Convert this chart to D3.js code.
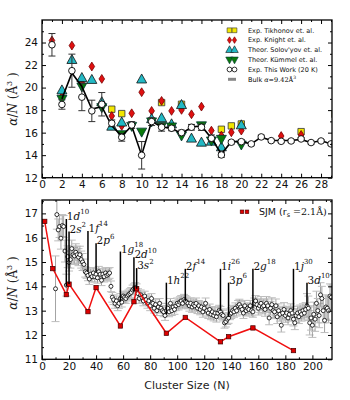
<!DOCTYPE html>
<html>
<head>
<meta charset="utf-8">
<script src="https://cdn.jsdelivr.net/npm/d3@7"></script>
<style>
  body { margin: 0; background: #fff; }
  text { font-family: "DejaVu Sans", sans-serif; }
  .math { font-family: "DejaVu Serif", serif; }
</style>
</head>
<body>
<div id="chart"></div>
<script>
// ---- top panel data (small clusters) ----
const tikhN = [7, 8, 12, 14, 18, 19, 20, 26, 29.4];
const tikhV = [18.08, 17.69, 18.67, 18.52, 16.3, 16.6, 16.77, 16.09, 17.63];

const knightN = [1, 2, 3, 4, 5, 6, 7, 8, 9, 10, 11, 12, 13, 14, 15, 16, 17, 18, 19, 20, 24, 26, 29.4];
const knightV = [24.18, 19.2, 23.73, 20.4, 21.87, 20.77, 17.48, 16.6, 17.72, 19.59, 17.93, 18.82, 17.93, 18.02, 17.63, 18.31, 16.18, 15.74, 16.03, 16.18, 15.7, 15.8, 14.75];

const solovN = [2, 3, 4, 5, 6, 7, 8, 10, 11, 12, 13, 14, 15, 16, 17, 18, 20];
const solovV = [19.75, 22.45, 20.85, 20.68, 18.7, 16.53, 16.9, 20.72, 17.2, 17.28, 16.74, 18.45, 15.47, 15.11, 15.2, 14.7, 16.65];

const kummelN = [2, 4, 6, 8, 9, 10, 11, 12, 13, 14, 16, 17, 18, 20, 29.4];
const kummelV = [19.0, 20.1, 18.26, 15.86, 16.6, 16.09, 17.0, 16.6, 16.55, 15.75, 16.65, 15.3, 15.45, 14.95, 14.8];

const workN = [1, 2, 3, 4, 5, 6, 7, 8, 9, 10, 11, 12, 13, 14, 15, 16, 17, 18, 19, 20, 21, 22, 23, 24, 25, 26, 27, 28, 29, 29.4];
const workV = [23.8, 18.5, 21.5, 19.15, 17.93, 18.52, 16.83, 15.59, 16.68, 13.99, 16.98, 16.48, 16.39, 16.0, 16.48, 16.48, 15.5, 14.02, 15.15, 15.2, 15.0, 15.62, 15.29, 15.23, 15.26, 15.44, 15.12, 15.26, 15.0, 14.95];
const workErr = [1.0, 0.42, 1.47, 1.2, 0.95, 1.04, 0.3, 0.35, 0.3, 1.22, 0.35, 0.35, 0.22, 0.22, 0.25, 0.28, 0.3, 0.2, 0.15, 0.18, 0.15, 0.15, 0.12, 0.12, 0.12, 0.12, 0.12, 0.12, 0.12, 0.12];

const lineN = [2, 3, 4, 5, 6, 7, 8, 9, 10, 11, 12, 13, 14, 15, 16, 17, 18, 19, 20, 21, 22, 23, 24, 25, 26, 27, 28, 29, 29.4];
const lineV = [19.0, 21.3, 20.1, 18.1, 18.3, 16.6, 15.7, 16.6, 14.0, 17.0, 16.5, 16.4, 15.9, 16.5, 16.6, 15.5, 14.1, 15.2, 15.2, 15.0, 15.6, 15.3, 15.3, 15.3, 15.4, 15.1, 15.3, 15.0, 14.9];

// ---- bottom panel data (large clusters) ----
const bigN = [];
for (let n = 10; n <= 214; n++) bigN.push(n);
const bigV = [
  13.9, 16.95, 16.32, 16.46, 15.98, 16.5, 16.46, 15.45, 14.05, 15.22,
  14.98, 15.1, 15.55, 15.3, 15.25, 15.4, 15.3, 15.2, 15.3, 15.1,
  15.0, 14.9, 14.6, 14.55, 14.45, 14.3, 14.5, 14.4, 14.55, 14.4,
  14.5, 14.35, 14.6, 14.5, 14.25, 14.5, 14.4, 14.55, 14.45, 14.5,
  14.55, 14.0, 13.55, 13.45, 13.3, 13.4, 13.2, 13.3, 13.5, 13.35,
  13.6, 13.55, 13.5, 13.6, 13.65, 13.7, 13.75, 13.85, 13.9, 13.95,
  13.9, 13.7, 13.5, 13.65, 13.55, 13.4, 13.6, 13.45, 13.3, 13.4,
  13.2, 13.5, 13.3, 13.1, 13.25, 13.0, 13.15, 13.3, 13.1, 13.0,
  12.95, 12.8, 13.0, 13.1, 12.95, 13.3, 13.0, 13.15, 13.05, 13.2,
  13.3, 13.25, 13.35, 13.4, 13.3, 13.45, 13.4, 13.35, 13.3, 13.2,
  13.3, 13.15, 13.25, 13.2, 13.3, 13.1, 13.2, 13.05, 13.15, 12.95,
  13.1, 13.3, 13.0, 12.9, 13.05, 12.85, 12.95, 12.8, 12.9, 12.75,
  12.9, 13.0, 12.95, 12.85, 12.8, 12.5, 12.55, 12.65, 12.7, 12.85,
  12.9, 13.0, 12.95, 13.1, 13.0, 13.2, 13.25, 13.15, 13.05, 12.9,
  13.2, 13.0, 13.1, 13.05, 13.2, 13.0, 12.95, 13.3, 13.4, 13.25,
  13.1, 13.2, 13.3, 13.15, 13.2, 13.05, 13.3, 13.2, 12.7, 13.1,
  13.25, 13.0, 12.95, 13.2, 12.75, 13.0, 12.85, 12.4, 12.9, 13.05,
  12.8, 12.9, 12.7, 12.85, 13.0, 12.9, 12.65, 12.5, 12.8, 12.9,
  12.75, 12.95, 12.85, 13.0, 12.9, 13.05, 13.2, 13.1, 12.5, 12.7,
  12.4, 12.85, 12.65, 13.3, 13.0, 12.8, 13.65, 13.5, 13.0, 12.6,
  13.15, 13.1, 13.0, 13.6, 13.55
];
// error size read per stretch of N (starts of stretches and their half-widths)
const bigErrFrom = [10, 11, 12, 20, 31, 52, 100, 160, 196];
const bigErrVal = [1.35, 0.6, 0.45, 0.35, 0.22, 0.2, 0.22, 0.28, 0.5];

const sjmN = [2, 8, 18, 20, 34, 40, 58, 68, 70, 92, 106, 132, 138, 156, 186];
const sjmV = [16.67, 14.73, 13.66, 14.09, 12.96, 13.95, 12.37, 13.37, 13.9, 12.07, 12.72, 11.72, 11.93, 12.29, 11.36];

const shellN = [18, 20, 34, 40, 58, 68, 70, 92, 106, 132, 138, 156, 186, 196];
const shellTop = [16.77, 16.25, 16.28, 15.77, 15.43, 15.2, 14.75, 14.15, 14.72, 14.72, 14.15, 14.72, 14.72, 14.15];
const shellBase = [14.0, 14.1, 14.6, 14.6, 13.37, 13.8, 13.9, 12.85, 13.4, 13.0, 12.75, 13.1, 13.0, 13.2];
const shellName = ["1d", "2s", "1f", "2p", "1g", "2d", "3s", "1h", "2f", "1i", "3p", "2g", "1j", "3d"];
const shellSup = ["10", "2", "14", "6", "18", "10", "2", "22", "14", "26", "6", "18", "30", "10"];

// ---- layout ----
const W = 350, H = 400;
const L = 42, R = 332;
const top1 = 20, bot1 = 177.7, top2 = 200, bot2 = 359.3;

const svg = d3.select("#chart").append("svg")
  .attr("width", W).attr("height", H);

const xT = d3.scaleLinear().domain([0, 29.1]).range([L, R]);
const yT = d3.scaleLinear().domain([12, 26]).range([bot1, top1]);
const xB = d3.scaleLinear().domain([0, 214.5]).range([L, R]);
const yB = d3.scaleLinear().domain([11, 17.55]).range([bot2, top2]);

const defs = svg.append("defs");
defs.append("clipPath").attr("id", "clipT").append("rect")
  .attr("x", L).attr("y", top1).attr("width", R - L).attr("height", bot1 - top1);
defs.append("clipPath").attr("id", "clipB").append("rect")
  .attr("x", L).attr("y", top2).attr("width", R - L).attr("height", bot2 - top2);

const TRI_UP = "M0,-5.5L5,3.5L-5,3.5Z";
const TRI_DN = "M0,5.5L5,-3.5L-5,-3.5Z";
const DIAM = "M0,-4.4L2.8,0L0,4.4L-2.8,0Z";
const SQR = "M-3.2,-3.2H3.2V3.2H-3.2Z";

function drawAxes(x, y, yTop, yBot, xMajor, xMinor, yMajor, yMinor) {
  const g = svg.append("g");
  const fmt = d3.format("d");
  g.append("g").attr("transform", `translate(0,${yBot})`)
    .call(d3.axisBottom(x).tickValues(xMajor).tickSize(-4).tickPadding(3).tickFormat(fmt));
  g.append("g").attr("transform", `translate(0,${yBot})`)
    .call(d3.axisBottom(x).tickValues(xMinor).tickSize(-2).tickFormat(""));
  g.append("g").attr("transform", `translate(0,${yTop})`)
    .call(d3.axisTop(x).tickValues(xMajor).tickSize(-4).tickFormat(""));
  g.append("g").attr("transform", `translate(0,${yTop})`)
    .call(d3.axisTop(x).tickValues(xMinor).tickSize(-2).tickFormat(""));
  g.append("g").attr("transform", `translate(${L},0)`)
    .call(d3.axisLeft(y).tickValues(yMajor).tickSize(-4).tickPadding(4).tickFormat(fmt));
  g.append("g").attr("transform", `translate(${L},0)`)
    .call(d3.axisLeft(y).tickValues(yMinor).tickSize(-2).tickFormat(""));
  g.append("g").attr("transform", `translate(${R},0)`)
    .call(d3.axisRight(y).tickValues(yMajor).tickSize(-4).tickFormat(""));
  g.append("g").attr("transform", `translate(${R},0)`)
    .call(d3.axisRight(y).tickValues(yMinor).tickSize(-2).tickFormat(""));
  g.selectAll(".domain").remove();
  g.selectAll(".tick line").attr("stroke", "#000").attr("stroke-width", 1);
  g.selectAll(".tick text").attr("font-size", 10.5).attr("fill", "#111")
    .attr("font-family", "DejaVu Sans");
  g.append("rect").attr("x", L).attr("y", yTop).attr("width", R - L).attr("height", yBot - yTop)
    .attr("fill", "none").attr("stroke", "#000").attr("stroke-width", 1.3);
}

function yLabel(cy) {
  const t = svg.append("text").attr("class", "math")
    .attr("transform", `translate(17,${cy}) rotate(-90)`)
    .attr("text-anchor", "middle").attr("font-size", 12).attr("fill", "#222");
  t.append("tspan").attr("font-style", "italic").text("α");
  t.append("tspan").text("/");
  t.append("tspan").attr("font-style", "italic").text("N");
  t.append("tspan").text(" (Å");
  t.append("tspan").attr("font-size", 8).attr("dy", -5).text("3");
  t.append("tspan").attr("dy", 5).text(" )");
}

// ================= TOP PANEL =================
const gT = svg.append("g").attr("clip-path", "url(#clipT)");

function markers(ns, vs, path, fill, stroke) {
  gT.append("g").selectAll("path").data(ns).join("path")
    .attr("d", path)
    .attr("transform", (n, i) => `translate(${xT(n)},${yT(vs[i])})`)
    .attr("fill", fill).attr("stroke", stroke).attr("stroke-width", 0.8);
}

markers(tikhN, tikhV, SQR, "#f2e600", "#333");
markers(knightN, knightV, DIAM, "#e01010", "#700");
markers(solovN, solovV, TRI_UP, "#22b8c4", "#111");
markers(kummelN, kummelV, TRI_DN, "#0a7a0a", "#033");

// error bars for this work
const eb = gT.append("g").attr("stroke", "#333").attr("stroke-width", 1);
workN.forEach((n, i) => {
  const x = xT(n), y0 = yT(workV[i] - workErr[i]), y1 = yT(workV[i] + workErr[i]);
  eb.append("line").attr("x1", x).attr("x2", x).attr("y1", y0).attr("y2", y1);
  eb.append("line").attr("x1", x - 3.5).attr("x2", x + 3.5).attr("y1", y0).attr("y2", y0);
  eb.append("line").attr("x1", x - 3.5).attr("x2", x + 3.5).attr("y1", y1).attr("y2", y1);
});

gT.append("path")
  .datum(lineN.map((n, i) => [n, lineV[i]]))
  .attr("d", d3.line().x(d => xT(d[0])).y(d => yT(d[1])))
  .attr("fill", "none").attr("stroke", "#000").attr("stroke-width", 1.6);

gT.append("g").selectAll("circle").data(workN).join("circle")
  .attr("cx", n => xT(n)).attr("cy", (n, i) => yT(workV[i])).attr("r", 3.3)
  .attr("fill", "#fff").attr("stroke", "#000").attr("stroke-width", 0.9);

drawAxes(xT, yT, top1, bot1, d3.range(0, 29, 2), d3.range(1, 30, 2),
  d3.range(12, 26, 2), d3.range(13, 26, 2));
yLabel(99);

// legend (top)
const legRows = [
  { path: SQR, fill: "#f2e600", stroke: "#333", label: "Exp. Tikhonov et. al." },
  { path: DIAM, fill: "#e01010", stroke: "#700", label: "Exp. Knight et. al." },
  { path: TRI_UP, fill: "#22b8c4", stroke: "#111", label: "Theor. Solov'yov et. al." },
  { path: TRI_DN, fill: "#0a7a0a", stroke: "#033", label: "Theor. Kümmel et. al." },
  { circle: true, label: "Exp. This Work (20 K)" },
  { bulk: true }
];
const leg = svg.append("g");
legRows.forEach((r, i) => {
  const y = 30.3 + i * 9.8;
  [229.5, 234.5].forEach(x => {
    if (r.circle) {
      leg.append("circle").attr("cx", x).attr("cy", y).attr("r", 2.4)
        .attr("fill", "#fff").attr("stroke", "#000").attr("stroke-width", 0.8);
    } else if (r.path) {
      leg.append("path").attr("d", r.path)
        .attr("transform", `translate(${x},${y}) scale(0.75)`)
        .attr("fill", r.fill).attr("stroke", r.stroke).attr("stroke-width", 0.8);
    }
  });
  if (r.bulk) {
    leg.append("line").attr("x1", 228).attr("x2", 236).attr("y1", y).attr("y2", y)
      .attr("stroke", "#888").attr("stroke-width", 3);
    const t = leg.append("text").attr("x", 248).attr("y", y + 2.3).attr("font-size", 6.5);
    t.append("tspan").text("Bulk ");
    t.append("tspan").attr("class", "math").attr("font-style", "italic").text("α");
    t.append("tspan").attr("class", "math").text("=9.42Å");
    t.append("tspan").attr("class", "math").attr("font-size", 4.5).attr("dy", -3).text("3");
  } else {
    leg.append("text").attr("x", 248).attr("y", y + 2.3).attr("font-size", 6.5)
      .attr("fill", "#111").text(r.label);
  }
});

// ================= BOTTOM PANEL =================
const gB = svg.append("g").attr("clip-path", "url(#clipB)");

function errAt(n) {
  let e = bigErrVal[0];
  bigErrFrom.forEach((f, i) => { if (n >= f) e = bigErrVal[i]; });
  return e;
}

const ebB = gB.append("g");
bigN.forEach((n, i) => {
  const e = errAt(n);
  const x = xB(n), y0 = yB(bigV[i] - e), y1 = yB(bigV[i] + e);
  ebB.append("line").attr("x1", x).attr("x2", x).attr("y1", y0).attr("y2", y1)
    .attr("stroke", "#8a8a8a").attr("stroke-width", 0.8);
  [y0, y1].forEach(yy => ebB.append("line")
    .attr("x1", x - 4).attr("x2", x + 4).attr("y1", yy).attr("y2", yy)
    .attr("stroke", "#bdbdbd").attr("stroke-width", 1));
});

gB.append("g").selectAll("circle").data(bigN).join("circle")
  .attr("cx", n => xB(n)).attr("cy", (n, i) => yB(bigV[i])).attr("r", 2)
  .attr("fill", "#fff").attr("stroke", "#000").attr("stroke-width", 0.8);

// shell closing markers
const sh = svg.append("g");
shellN.forEach((n, i) => {
  const x = xB(n);
  sh.append("line").attr("x1", x).attr("x2", x)
    .attr("y1", yB(shellBase[i])).attr("y2", yB(shellTop[i]))
    .attr("stroke", "#000").attr("stroke-width", 1.5);
  const t = sh.append("text").attr("class", "math")
    .attr("x", x + 0.5).attr("y", yB(shellTop[i]) + 1)
    .attr("font-size", 10.5).attr("fill", "#111");
  t.append("tspan").text(shellName[i][0]);
  t.append("tspan").attr("font-style", "italic").text(shellName[i].slice(1));
  t.append("tspan").attr("font-size", 7).attr("dy", -5.5).text(shellSup[i]);
});

// SJM line
gB.append("path")
  .datum(sjmN.map((n, i) => [n, sjmV[i]]))
  .attr("d", d3.line().x(d => xB(d[0])).y(d => yB(d[1])))
  .attr("fill", "none").attr("stroke", "#f01010").attr("stroke-width", 1.5);
gB.append("g").selectAll("rect").data(sjmN).join("rect")
  .attr("x", n => xB(n) - 2.2).attr("y", (n, i) => yB(sjmV[i]) - 2.2)
  .attr("width", 4.4).attr("height", 4.4)
  .attr("fill", "#d00").attr("stroke", "#400").attr("stroke-width", 0.7);

drawAxes(xB, yB, top2, bot2, d3.range(0, 201, 20), d3.range(10, 215, 20),
  d3.range(11, 18, 1), d3.range(11.5, 17.6, 1));
yLabel(283);

// SJM legend
const sl = svg.append("g");
[242, 247].forEach(x => sl.append("rect").attr("x", x - 1.8).attr("y", 210).attr("width", 3.6).attr("height", 3.6)
  .attr("fill", "#d00").attr("stroke", "#400").attr("stroke-width", 0.6));
const st = sl.append("text").attr("x", 259).attr("y", 215).attr("font-size", 9.5).attr("fill", "#111");
st.append("tspan").text("SJM (r");
st.append("tspan").attr("font-size", 6.5).attr("dy", 2).text("s");
st.append("tspan").attr("class", "math").attr("dy", -2).text(" =2.1Å)");

svg.append("text").attr("x", 187).attr("y", 389).attr("text-anchor", "middle")
  .attr("font-size", 11).attr("fill", "#222").text("Cluster Size (N)");
</script>
</body>
</html>
